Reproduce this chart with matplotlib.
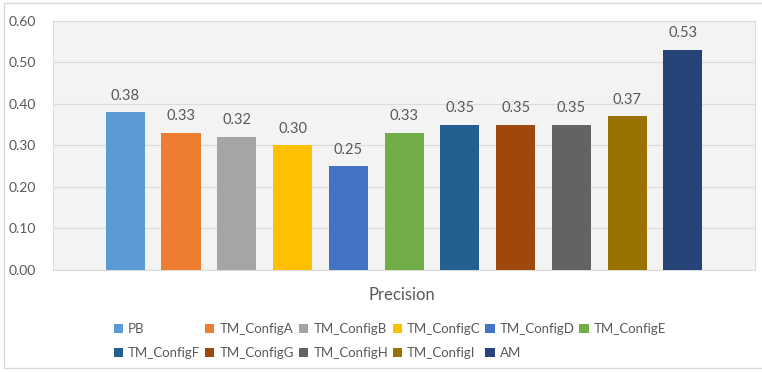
import matplotlib.pyplot as plt
from matplotlib.patches import Patch, Rectangle

# precision per configuration
series = ['PB', 'TM_ConfigA', 'TM_ConfigB', 'TM_ConfigC', 'TM_ConfigD', 'TM_ConfigE',
          'TM_ConfigF', 'TM_ConfigG', 'TM_ConfigH', 'TM_ConfigI', 'AM']
precision = [0.38, 0.33, 0.32, 0.30, 0.25, 0.33, 0.35, 0.35, 0.35, 0.37, 0.53]
colors = ['#5B9BD5', '#ED7D31', '#A5A5A5', '#FFC000', '#4472C4', '#70AD47',
          '#255E91', '#9E480E', '#636363', '#997300', '#264478']
yticks = [0.0, 0.1, 0.2, 0.3, 0.4, 0.5, 0.6]

plt.rcParams['font.family'] = ['Lato', 'DejaVu Sans']
plt.rcParams['hatch.linewidth'] = 0.5

fig = plt.figure(figsize=(7.62, 3.72), dpi=100)
ax = fig.add_axes([0.0696, 0.2742, 0.9213, 0.6694])

# hatched plot-area background
ax.add_patch(Rectangle((0, 0), 1, 1, transform=ax.transAxes, facecolor='white',
                       edgecolor='#f0f0f0', hatch='\\' * 25, linewidth=0, zorder=0))

x = list(range(len(series)))
bars = ax.bar(x, precision, width=0.70, color=colors, zorder=3)
for xi, v in zip(x, precision):
    ax.annotate(f'{v:.2f}', (xi, v), xytext=(0, 7), textcoords='offset points',
                ha='center', va='bottom', fontsize=10.5, color='#595959')

ax.set_xlim(-1.295, 11.295)
ax.set_ylim(0, 0.6)
ax.set_yticks(yticks)
ax.set_yticklabels([f'{t:.2f}' for t in yticks], fontsize=10, color='#595959')
ax.set_xticks([])
ax.tick_params(axis='y', length=0, pad=12)
ax.grid(axis='y', color='#dcdcdc', linewidth=0.9, zorder=1)
ax.set_axisbelow(True)
for s in ax.spines.values():
    s.set_color('#dcdcdc')
    s.set_linewidth(0.8)

fig.text(0.528, 1 - 295 / 372, 'Precision', ha='center', va='center',
         fontsize=12, color='#595959')

# legend filled row by row (two rows, six columns)
handles = [Patch(facecolor=c, edgecolor='none') for c in colors]
order = [0, 6, 1, 7, 2, 8, 3, 9, 4, 10, 5]
fig.legend([handles[i] for i in order], [series[i] for i in order], ncol=6,
           loc='center', bbox_to_anchor=(390 / 762, 1 - 341 / 372), frameon=False,
           fontsize=9.5, labelcolor='#595959', handlelength=0.7, handleheight=0.7,
           handletextpad=0.4, columnspacing=0.35, labelspacing=0.9)

# chart border
fig.add_artist(Rectangle((4 / 762, 4 / 372), 1.2, 1 - 7 / 372, transform=fig.transFigure,
                         fill=False, edgecolor='#d9d9d9', linewidth=1.0))

fig.savefig('out.png', dpi=100)
